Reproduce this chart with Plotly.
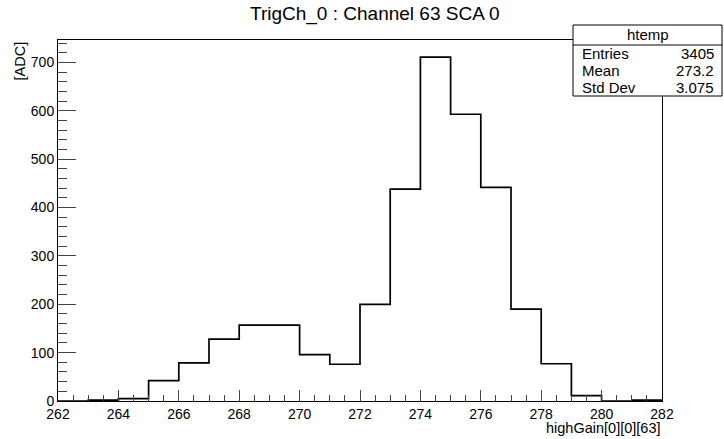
import plotly.graph_objects as go

# ---- data ----
bin_edges = [262, 263, 264, 265, 266, 267, 268, 269, 270, 271, 272,
             273, 274, 275, 276, 277, 278, 279, 280, 281, 282]
counts = [0, 2, 5, 42, 79, 128, 157, 157, 96, 76,
          200, 438, 711, 593, 442, 190, 77, 11, 0, 2]
stats_name = "htemp"
stats_labels = ["Entries", "Mean", "Std Dev"]
stats_values = ["3405", "273.2", "3.075"]
title_text = "TrigCh_0 : Channel 63 SCA 0"
x_title = "highGain[0][0][63]"
y_title = "[ADC]"

W, H = 724, 439
L, R, T, B = 58, 62, 40, 38
FONT = "Liberation Sans, Arial, Helvetica, sans-serif"


def px(xp):
    return (xp - L) / (W - L - R)


def py(yp):
    return (H - B - yp) / (H - T - B)


fig = go.Figure()
fig.add_trace(go.Scatter(
    x=bin_edges,
    y=counts + [counts[-1]],
    mode="lines",
    line=dict(shape="hv", color="black", width=1.7),
    hoverinfo="skip",
    showlegend=False,
))

axis_common = dict(
    showgrid=False, zeroline=False, showline=True, linecolor="black",
    linewidth=1, mirror=True, ticks="inside", tickcolor="#444",
    tickfont=dict(family=FONT, size=14, color="black"),
)

fig.update_xaxes(range=[262, 282], tick0=262, dtick=2, ticklen=11,
                 minor=dict(ticks="inside", ticklen=6, dtick=0.5, tick0=262,
                            tickcolor="#444"),
                 **axis_common)
fig.update_yaxes(range=[0, 746.6], tick0=0, dtick=100, ticklen=18,
                 minor=dict(ticks="inside", ticklen=9, dtick=20, tick0=0,
                            tickcolor="#444"),
                 **axis_common)

shapes = [
    dict(type="rect", xref="paper", yref="paper",
         x0=px(573), x1=px(722), y0=py(96), y1=py(25),
         fillcolor="white", line=dict(color="black", width=1), layer="above"),
    dict(type="line", xref="paper", yref="paper",
         x0=px(573), x1=px(722), y0=py(45), y1=py(45),
         line=dict(color="black", width=1), layer="above"),
]

annotations = [
    dict(text=title_text, xref="paper", yref="paper", x=px(375), y=py(14),
         xanchor="center", yanchor="middle", showarrow=False,
         font=dict(family=FONT, size=19, color="black")),
    dict(text=x_title, xref="paper", yref="paper", x=px(662), y=py(428),
         xanchor="right", yanchor="middle", showarrow=False,
         font=dict(family=FONT, size=14.5, color="black")),
    dict(text=y_title, xref="paper", yref="paper", x=px(19), y=py(40),
         xanchor="center", yanchor="top", textangle=-90, showarrow=False,
         font=dict(family=FONT, size=14.5, color="black")),
    dict(text=stats_name, xref="paper", yref="paper", x=px(648), y=py(35),
         xanchor="center", yanchor="middle", showarrow=False,
         font=dict(family=FONT, size=15, color="black")),
]
row_y = [53, 70, 87]
for lab, val, yy in zip(stats_labels, stats_values, row_y):
    annotations.append(dict(text=lab, xref="paper", yref="paper", x=px(580),
                            y=py(yy), xanchor="left", yanchor="middle",
                            showarrow=False,
                            font=dict(family=FONT, size=15, color="black")))
    annotations.append(dict(text=val, xref="paper", yref="paper", x=px(716),
                            y=py(yy), xanchor="right", yanchor="middle",
                            showarrow=False,
                            font=dict(family=FONT, size=15, color="black")))

fig.update_layout(
    width=W, height=H, autosize=False,
    margin=dict(l=L, r=R, t=T, b=B, pad=0),
    plot_bgcolor="white", paper_bgcolor="white",
    shapes=shapes, annotations=annotations,
    font=dict(family=FONT, color="black"),
)

fig.write_html("out.html",
               config={"displayModeBar": False, "staticPlot": True},
               post_script="document.body.style.margin='0';"
                           "document.body.style.overflow='hidden';")
